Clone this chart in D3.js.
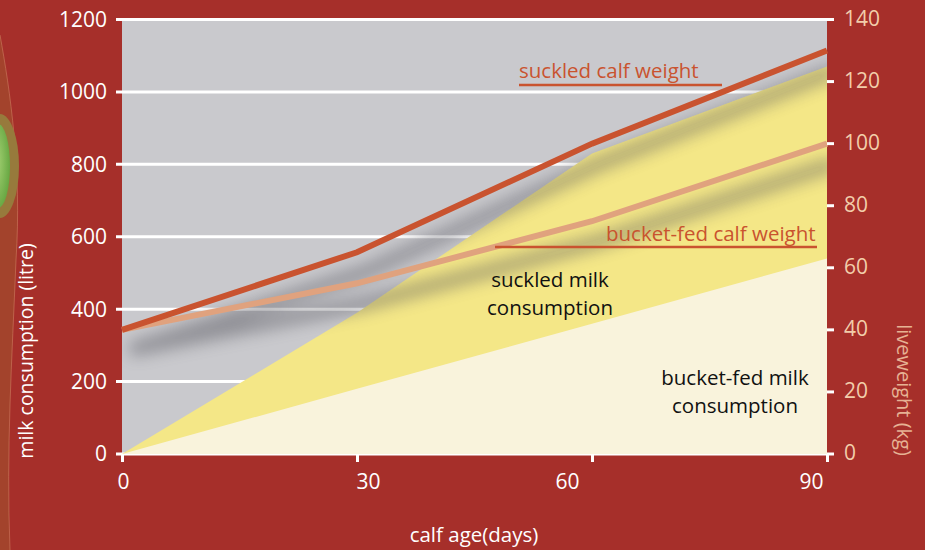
<!DOCTYPE html>
<html>
<head>
<meta charset="utf-8">
<script src="https://cdn.jsdelivr.net/npm/d3@7"></script>
<style>
  body { margin: 0; background: #a62f2a; }
  svg text { font-family: "Open Sans", "Noto Sans", sans-serif; }
</style>
</head>
<body>
<div id="chart"></div>
<script>
// calf age in days
const days = [0, 30, 60, 90];
// milk consumption (litre), left axis
const suckledMilk = [0, 390, 830, 1070];
const bucketMilk = [0, 180, 360, 540];
// liveweight (kg), right axis
const suckledWeight = [40, 65, 100, 130];
const bucketWeight = [40, 55, 75, 100];

const xTicks = [0, 30, 60, 90];
const leftTicks = [0, 200, 400, 600, 800, 1000, 1200];
const rightTicks = [0, 20, 40, 60, 80, 100, 120, 140];

const W = 925, H = 550;
const plot = {left: 122, right: 827, top: 19.5, bottom: 454};

const svg = d3.select("#chart").append("svg")
    .attr("width", W)
    .attr("height", H);

const defs = svg.append("defs");
defs.append("filter").attr("id", "blur")
    .attr("x", "-20%").attr("y", "-50%").attr("width", "140%").attr("height", "200%")
  .append("feGaussianBlur").attr("stdDeviation", 8);
defs.append("clipPath").attr("id", "plotclip")
  .append("rect")
    .attr("x", plot.left).attr("y", plot.top)
    .attr("width", plot.right - plot.left).attr("height", plot.bottom - plot.top);
const grad = defs.append("radialGradient").attr("id", "green")
    .attr("cx", "40%").attr("cy", "45%").attr("r", "60%");
grad.append("stop").attr("offset", "0%").attr("stop-color", "#a9d477");
grad.append("stop").attr("offset", "100%").attr("stop-color", "#68a843");

// background
svg.append("rect").attr("width", W).attr("height", H).attr("fill", "#a62f2a");

// decoration at the left edge
svg.append("path")
    .attr("d", "M0,35 C10,90 22,170 16,260 C12,360 6,450 10,550 L0,550 Z")
    .attr("fill", "#a3432c");
svg.append("path")
    .attr("d", "M0,35 C10,90 22,170 16,260 C12,360 6,450 10,550")
    .attr("fill", "none").attr("stroke", "#d9906e").attr("stroke-width", 0.8).attr("opacity", 0.6);
svg.append("ellipse").attr("cx", 0).attr("cy", 166).attr("rx", 19).attr("ry", 52)
    .attr("fill", "#977a3c");
svg.append("ellipse").attr("cx", -2).attr("cy", 166).attr("rx", 12).attr("ry", 42)
    .attr("fill", "url(#green)");

// scales
const x = d3.scaleLinear().domain([0, 90]).range([plot.left, plot.right]);
const yL = d3.scaleLinear().domain([0, 1200]).range([plot.bottom, plot.top]);
const yR = d3.scaleLinear().domain([0, 140]).range([plot.bottom, plot.top]);

// plot background
svg.append("rect")
    .attr("x", plot.left).attr("y", plot.top)
    .attr("width", plot.right - plot.left).attr("height", plot.bottom - plot.top)
    .attr("fill", "#c9c9cd");

// grid lines (left axis)
svg.append("g").selectAll("line").data(leftTicks).join("line")
    .attr("x1", plot.left - 6).attr("x2", plot.right)
    .attr("y1", d => yL(d)).attr("y2", d => yL(d))
    .attr("stroke", "#fff").attr("stroke-width", 3);

// milk areas
const area = d3.area()
    .x((d, i) => x(days[i]))
    .y0(yL(0))
    .y1(d => yL(d));

svg.append("path").datum(suckledMilk)
    .attr("d", area).attr("fill", "#f4e787");
svg.append("path").datum(bucketMilk)
    .attr("d", area).attr("fill", "#f9f3dc");

// weight lines
const line = d3.line()
    .x((d, i) => x(days[i]))
    .y(d => yR(d));

// soft shadows below the lines
const shadow = svg.append("g").attr("clip-path", "url(#plotclip)")
  .append("g").attr("filter", "url(#blur)").attr("opacity", 0.45)
    .attr("transform", "translate(8,20)");
[suckledWeight, bucketWeight].forEach(s => {
  shadow.append("path").datum(s)
      .attr("d", line).attr("fill", "none")
      .attr("stroke", "#505058").attr("stroke-width", 14);
});

svg.append("path").datum(bucketWeight)
    .attr("d", line).attr("fill", "none")
    .attr("stroke", "#e0a27e").attr("stroke-width", 6);
svg.append("path").datum(suckledWeight)
    .attr("d", line).attr("fill", "none")
    .attr("stroke", "#c9532f").attr("stroke-width", 6);

// left axis labels
svg.append("g").selectAll("text").data(leftTicks).join("text")
    .attr("x", plot.left - 15).attr("y", d => yL(d))
    .attr("dy", "0.35em").attr("text-anchor", "end")
    .attr("fill", "#fff").attr("font-size", 21)
    .text(d => d);

// right axis ticks and labels
svg.append("g").selectAll("line").data(rightTicks).join("line")
    .attr("x1", plot.right).attr("x2", plot.right + 7)
    .attr("y1", d => yR(d)).attr("y2", d => yR(d))
    .attr("stroke", "#fff").attr("stroke-width", 3);
svg.append("g").selectAll("text").data(rightTicks).join("text")
    .attr("x", plot.right + 17).attr("y", d => yR(d))
    .attr("dy", "0.3em")
    .attr("fill", "#f2cdaa").attr("font-size", 21)
    .text(d => d);

// bottom axis
const xAxis = d3.axisBottom(x).tickValues(xTicks).tickSize(8).tickSizeOuter(0).tickPadding(12);
const gx = svg.append("g").attr("transform", `translate(0,${plot.bottom})`).call(xAxis);
gx.select(".domain").remove();
gx.selectAll("line").attr("stroke", "#fff").attr("stroke-width", 3);
gx.selectAll("text").attr("fill", "#fff").attr("font-size", 21)
    .attr("font-family", null)
    .attr("dx", (d, i) => [1, 11, -25, -16][i]);

// axis titles
svg.append("text")
    .attr("transform", "translate(33,351) rotate(-90)")
    .attr("text-anchor", "middle").attr("fill", "#fff").attr("font-size", 19.5)
    .text("milk consumption (litre)");
svg.append("text")
    .attr("transform", "translate(897,390) rotate(90)")
    .attr("text-anchor", "middle").attr("fill", "#e6b294").attr("font-size", 20)
    .text("liveweight (kg)");
svg.append("text")
    .attr("x", 474).attr("y", 542)
    .attr("text-anchor", "middle").attr("fill", "#fff").attr("font-size", 20.5)
    .text("calf age(days)");

// series labels
svg.append("text").attr("x", 519).attr("y", 78)
    .attr("fill", "#c9532f").attr("font-size", 20.5).text("suckled calf weight");
svg.append("line").attr("x1", 519).attr("x2", 722).attr("y1", 85).attr("y2", 85)
    .attr("stroke", "#c9532f").attr("stroke-width", 2.5);
svg.append("text").attr("x", 606).attr("y", 241)
    .attr("fill", "#c9532f").attr("font-size", 20.5).text("bucket-fed calf weight");
svg.append("line").attr("x1", 495).attr("x2", 817).attr("y1", 247).attr("y2", 247)
    .attr("stroke", "#c9532f").attr("stroke-width", 2.5);

const areaLabels = [
  {lines: ["suckled milk", "consumption"], x: 550, y: 287},
  {lines: ["bucket-fed milk", "consumption"], x: 735, y: 385}
];
areaLabels.forEach(l => {
  svg.append("text")
      .attr("x", l.x).attr("y", l.y)
      .attr("text-anchor", "middle").attr("fill", "#111").attr("font-size", 20.5)
    .selectAll("tspan").data(l.lines).join("tspan")
      .attr("x", l.x).attr("dy", (d, i) => i ? 28 : 0)
      .text(d => d);
});
</script>
</body>
</html>
